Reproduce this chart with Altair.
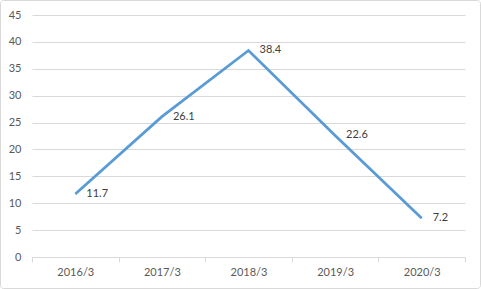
import altair as alt
import pandas as pd

periods = ["2016/3", "2017/3", "2018/3", "2019/3", "2020/3"]
values = [11.7, 26.1, 38.4, 22.6, 7.2]
labels = ["11.7", "26.1", "38.4", "22.6", "7.2"]

df = pd.DataFrame({"period": periods, "value": values, "label": labels})

FONT = "Lato"
W, H = 433, 242
PL, PT, PR, PB = 32, 15, 16, 32

x = alt.X("period:N", sort=periods, title=None,
          scale=alt.Scale(paddingInner=0, paddingOuter=0),
          axis=alt.Axis(labelAngle=0, tickBand="extent", tickSize=5, tickColor="#d9d9d9",
                        domainColor="#d9d9d9", labelColor="#595959", labelFontSize=11,
                        labelFont=FONT, labelPadding=4, grid=False))
y = alt.Y("value:Q", title=None,
          scale=alt.Scale(domain=[0, 45], nice=False),
          axis=alt.Axis(values=list(range(0, 50, 5)), domain=False, ticks=False,
                        gridColor="#d9d9d9", labelColor="#595959", labelFontSize=11,
                        labelFont=FONT, labelPadding=11))

base = alt.Chart(df)

line = base.mark_line(color="#5B9BD5", strokeWidth=2.75).encode(x=x, y=y)
text = base.mark_text(align="left", baseline="middle", dx=11, dy=0, fontSize=11,
                      font=FONT, color="#404040").encode(x=x, y=y, text="label:N")

border = alt.Chart(pd.DataFrame({"a": [0]})).mark_rect(
    fill=None, stroke="#d9d9d9", strokeWidth=1, cornerRadius=3
).encode(x=alt.value(-PL + 0.5), x2=alt.value(W + PR - 0.5),
         y=alt.value(-PT + 0.5), y2=alt.value(H + PB - 0.5))

chart = alt.layer(border, line, text).properties(
    width=W, height=H,
    autosize=alt.AutoSizeParams(type="none"),
    padding={"left": PL, "top": PT, "right": PR, "bottom": PB},
    background="white",
).configure_view(stroke=None)

chart.save("out.html", embed_options={"renderer": "svg", "actions": False})
